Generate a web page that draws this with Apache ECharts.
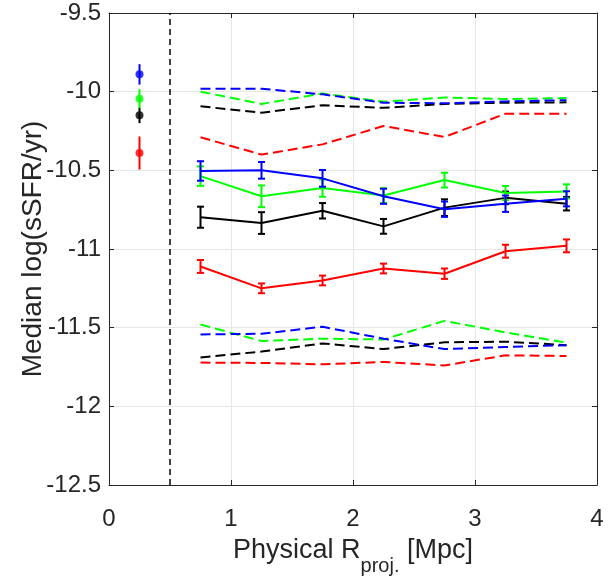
<!DOCTYPE html>
<html>
<head>
<meta charset="utf-8">
<script src="https://cdn.jsdelivr.net/npm/echarts@6/dist/echarts.min.js"></script>
<style>html,body{margin:0;padding:0;background:#fff}#c{width:608px;height:581px}</style>
</head>
<body>
<div id="c"></div>
<script>
// ---- data ----
const xBins = [0.75, 1.25, 1.75, 2.25, 2.75, 3.25, 3.75];

const blueMed  = [-10.504, -10.500, -10.551, -10.665, -10.747, -10.712, -10.681];
const blueErr  = [0.062, 0.053, 0.053, 0.048, 0.049, 0.052, 0.048];
const greenMed = [-10.537, -10.665, -10.613, -10.660, -10.562, -10.644, -10.634];
const greenErr = [0.062, 0.069, 0.055, 0.047, 0.047, 0.045, 0.045];
const blackMed = [-10.798, -10.835, -10.757, -10.856, -10.737, -10.675, -10.712];
const blackErr = [0.067, 0.069, 0.049, 0.047, 0.053, 0.040, 0.043];
const redMed   = [-11.111, -11.250, -11.200, -11.124, -11.157, -11.014, -10.980];
const redErr   = [0.041, 0.031, 0.031, 0.031, 0.033, 0.041, 0.041];

const blueHi  = [-9.981, -9.981, -10.017, -10.070, -10.074, -10.062, -10.054];
const greenHi = [-10.000, -10.078, -10.012, -10.064, -10.037, -10.047, -10.041];
const blackHi = [-10.093, -10.134, -10.086, -10.103, -10.078, -10.070, -10.068];
const redHi   = [-10.290, -10.400, -10.335, -10.218, -10.288, -10.140, -10.140];

const blueLo  = [-11.543, -11.539, -11.494, -11.570, -11.636, -11.623, -11.611];
const greenLo = [-11.480, -11.585, -11.570, -11.575, -11.457, -11.530, -11.595];
const blackLo = [-11.689, -11.652, -11.600, -11.636, -11.593, -11.589, -11.611];
const redLo   = [-11.722, -11.724, -11.733, -11.718, -11.740, -11.676, -11.680];

const refX = 0.25;
const refMed = {blue: -9.890, green: -10.045, black: -10.150, red: -10.390};
const refErr = {blue: 0.065, green: 0.060, black: 0.050, red: 0.105};

const cutX = 0.5;
const xTicks = [0, 1, 2, 3, 4];
const yTicks = [-12.5, -12, -11.5, -11, -10.5, -10, -9.5];

const colors = {blue: '#0000ff', green: '#00ff00', black: '#000000', red: '#ff0000'};

// ---- helpers ----
function pairs(xs, ys) { return xs.map((x, i) => [x, ys[i]]); }

function dashed(ys, col) {
  return {
    type: 'line', data: pairs(xBins, ys), symbol: 'none', silent: true,
    lineStyle: {color: col, width: 2, type: [10, 5]}, z: 2
  };
}
function solid(ys, col, z) {
  return {
    type: 'line', data: pairs(xBins, ys), symbol: 'none', silent: true,
    lineStyle: {color: col, width: 2}, z: z
  };
}
function errBars(xs, ys, es, col, cap, z) {
  return {
    type: 'custom', silent: true, z: z,
    data: xs.map((x, i) => [x, ys[i], es[i]]),
    renderItem: function (params, api) {
      const x = api.value(0), y = api.value(1), e = api.value(2);
      const top = api.coord([x, y + e]);
      const bot = api.coord([x, y - e]);
      const children = [{
        type: 'line', shape: {x1: top[0], y1: top[1], x2: bot[0], y2: bot[1]},
        style: {stroke: col, lineWidth: 2}
      }];
      if (cap > 0) {
        children.push({type: 'line', shape: {x1: top[0] - cap, y1: top[1], x2: top[0] + cap, y2: top[1]}, style: {stroke: col, lineWidth: 2}});
        children.push({type: 'line', shape: {x1: bot[0] - cap, y1: bot[1], x2: bot[0] + cap, y2: bot[1]}, style: {stroke: col, lineWidth: 2}});
      }
      return {type: 'group', children: children};
    }
  };
}
function refPoint(key, z) {
  return [
    errBars([refX], [refMed[key]], [refErr[key]], colors[key], 0, z),
    {type: 'scatter', data: [[refX, refMed[key]]], symbol: 'circle', symbolSize: 8,
     itemStyle: {color: colors[key]}, silent: true, z: z + 1}
  ];
}

const tickFont = {fontFamily: 'Liberation Sans', fontSize: 24, color: '#262626'};

const series = [
  dashed(blackHi, colors.black), dashed(redHi, colors.red), dashed(greenHi, colors.green), dashed(blueHi, colors.blue),
  dashed(blackLo, colors.black), dashed(redLo, colors.red), dashed(greenLo, colors.green), dashed(blueLo, colors.blue),
  solid(redMed, colors.red, 3), errBars(xBins, redMed, redErr, colors.red, 3.5, 3),
  solid(blackMed, colors.black, 4), errBars(xBins, blackMed, blackErr, colors.black, 3.5, 4),
  solid(greenMed, colors.green, 5), errBars(xBins, greenMed, greenErr, colors.green, 3.5, 5),
  solid(blueMed, colors.blue, 6), errBars(xBins, blueMed, blueErr, colors.blue, 3.5, 6),
  ...refPoint('red', 7), ...refPoint('black', 7), ...refPoint('green', 7), ...refPoint('blue', 9),
  {type: 'line', data: [[cutX, yTicks[0]], [cutX, yTicks[yTicks.length - 1]]], symbol: 'none', silent: true,
   lineStyle: {color: '#000', width: 1.5, type: [6, 4]}, z: 10}
];

const chart = echarts.init(document.getElementById('c'), null, {renderer: 'canvas'});
chart.setOption({
  animation: false,
  backgroundColor: '#fff',
  grid: {left: 109, right: 11, top: 13, bottom: 82, containLabel: false},
  xAxis: [{
    type: 'value', min: xTicks[0], max: xTicks[xTicks.length - 1], interval: 1,
    name: '{a|Physical R}{s|proj.}{a| [Mpc]}', nameLocation: 'middle', nameGap: 47,
    nameMoveOverlap: false,
    nameTextStyle: {rich: {
      a: {fontFamily: 'Liberation Sans', fontSize: 27, color: '#262626', verticalAlign: 'bottom', lineHeight: 32},
      s: {fontFamily: 'Liberation Sans', fontSize: 20, color: '#262626', verticalAlign: 'bottom', padding: [0, 0, -12, 0], lineHeight: 32}
    }},
    axisLine: {show: true, onZero: false, lineStyle: {color: '#262626', width: 1}},
    axisTick: {show: true, inside: true, length: 5, lineStyle: {color: '#262626'}},
    axisLabel: {...tickFont, margin: 22},
    splitLine: {show: true, lineStyle: {color: '#e6e6e6', width: 1}}
  }, {
    type: 'value', position: 'top', min: xTicks[0], max: xTicks[xTicks.length - 1], interval: 1,
    axisLine: {show: true, onZero: false, lineStyle: {color: '#262626', width: 1}},
    axisTick: {show: true, inside: true, length: 5, lineStyle: {color: '#262626'}},
    axisLabel: {show: false}, splitLine: {show: false}
  }],
  yAxis: [{
    type: 'value', min: yTicks[0], max: yTicks[yTicks.length - 1], interval: 0.5,
    name: 'Median log(sSFR/yr)', nameLocation: 'middle', nameGap: 62,
    nameMoveOverlap: false,
    nameTextStyle: {fontFamily: 'Liberation Sans', fontSize: 28, color: '#262626'},
    axisLine: {show: true, onZero: false, lineStyle: {color: '#262626', width: 1}},
    axisTick: {show: true, inside: true, length: 5, lineStyle: {color: '#262626'}},
    axisLabel: {...tickFont, margin: 8},
    splitLine: {show: true, lineStyle: {color: '#e6e6e6', width: 1}}
  }, {
    type: 'value', position: 'right', min: yTicks[0], max: yTicks[yTicks.length - 1], interval: 0.5,
    axisLine: {show: true, onZero: false, lineStyle: {color: '#262626', width: 1}},
    axisTick: {show: true, inside: true, length: 5, lineStyle: {color: '#262626'}},
    axisLabel: {show: false}, splitLine: {show: false}
  }],
  series: series
});
</script>
</body>
</html>
